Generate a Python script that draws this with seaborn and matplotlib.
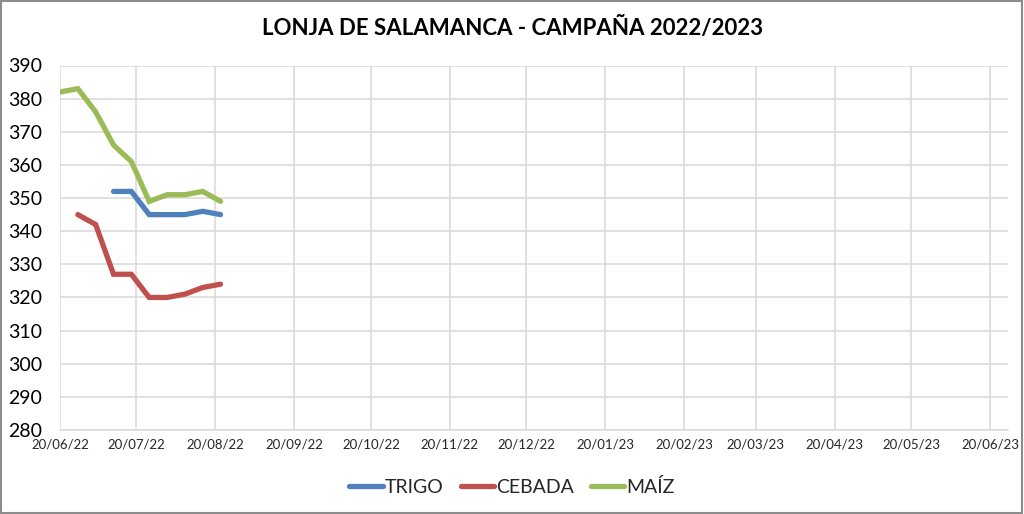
import numpy as np
import pandas as pd
import matplotlib
matplotlib.use("Agg")
import matplotlib.pyplot as plt
import matplotlib.dates as mdates
from matplotlib.lines import Line2D
import seaborn as sns

dates = ["2022-06-20", "2022-06-27", "2022-07-04", "2022-07-11", "2022-07-18",
         "2022-07-25", "2022-08-01", "2022-08-08", "2022-08-15", "2022-08-22"]
trigo = [np.nan, np.nan, np.nan, 352, 352, 345, 345, 345, 346, 345]
cebada = [np.nan, 345, 342, 327, 327, 320, 320, 321, 323, 324]
maiz = [382, 383, 376, 366, 361, 349, 351, 351, 352, 349]
series_names = ["TRIGO", "CEBADA", "MAÍZ"]
colors = ["#4F81BD", "#C0504D", "#9BBB59"]
title = "LONJA DE SALAMANCA - CAMPAÑA 2022/2023"
tick_dates = ["2022-06-20", "2022-07-20", "2022-08-20", "2022-09-20", "2022-10-20",
              "2022-11-20", "2022-12-20", "2023-01-20", "2023-02-20", "2023-03-20",
              "2023-04-20", "2023-05-20", "2023-06-20"]

df = pd.DataFrame({"fecha": pd.to_datetime(dates), "TRIGO": trigo,
                   "CEBADA": cebada, "MAÍZ": maiz})
long = df.melt(id_vars="fecha", var_name="serie", value_name="precio").dropna()

sns.set_theme(style="white")
plt.rcParams["font.family"] = ["Lato", "DejaVu Sans"]

fig = plt.figure(figsize=(10.24, 5.14), dpi=100)
ax = fig.add_axes([60 / 1024, 1 - 430 / 514, (1008 - 60) / 1024, (430 - 65.5) / 514])

sns.lineplot(data=long, x="fecha", y="precio", hue="serie", hue_order=series_names,
             palette=colors, linewidth=3.8, ax=ax, legend=False,
             solid_capstyle="round", solid_joinstyle="miter")

ax.set_xlim(pd.Timestamp("2022-06-20"), pd.Timestamp("2023-06-27"))
ax.set_ylim(280, 390)
ax.set_yticks(np.arange(280, 391, 10))
ax.set_xticks(pd.to_datetime(tick_dates))
ax.xaxis.set_major_formatter(mdates.DateFormatter("%d/%m/%y"))
ax.grid(True, color="#D9D9D9", linewidth=1.1)
ax.set_axisbelow(True)
for s in ["top", "right", "left"]:
    ax.spines[s].set_visible(False)
ax.spines["bottom"].set_color("#D9D9D9")
ax.spines["bottom"].set_linewidth(1.1)
ax.tick_params(axis="y", labelsize=14, pad=13, length=0, colors="#000000")
ax.tick_params(axis="x", labelsize=9.5, pad=6, length=0, colors="#262626")
ax.set_xlabel("")
ax.set_ylabel("")

fig.text(0.5, 1 - 28 / 514, title, ha="center", va="center",
         fontsize=16, fontweight="bold", color="#000000")

handles = [Line2D([0], [0], color=c, linewidth=3.8, solid_capstyle="round") for c in colors]
fig.legend(handles, series_names, loc="center", bbox_to_anchor=(0.5, 1 - 487 / 514),
           ncol=3, frameon=False, fontsize=14, handlelength=1.7, handletextpad=0.1,
           columnspacing=0.9)

fig.patches.append(plt.Rectangle((0.001, 0.002), 0.997, 0.996, transform=fig.transFigure,
                                 fill=False, edgecolor="#8C8C8C", linewidth=1.5))

fig.savefig("out.png", dpi=100)
